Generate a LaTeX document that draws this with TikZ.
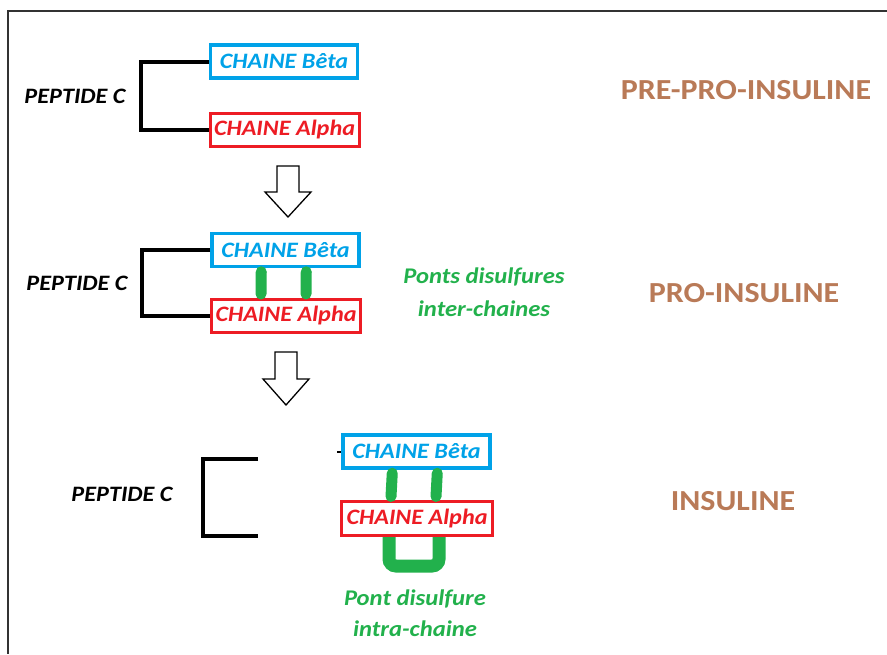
\documentclass[tikz,border=0pt]{standalone}
\usepackage{fontspec}
\setmainfont{Carlito}[FakeStretch=1.1]
\usetikzlibrary{calc}
\definecolor{chainblue}{RGB}{0,162,232}
\definecolor{chainred}{RGB}{237,28,36}
\definecolor{bondgreen}{RGB}{34,177,76}
\definecolor{titlebrown}{RGB}{185,122,87}
\definecolor{framegray}{RGB}{50,50,50}
\tikzset{
  x=0.75pt, y=-0.75pt,
  beta/.style={draw=chainblue, line width=3.5*0.75pt, text=chainblue,
    minimum width=147*0.75pt, minimum height=33*0.75pt, inner sep=0pt,
    font=\fontsize{16.5}{18}\selectfont\bfseries\itshape},
  alpha/.style={draw=chainred, line width=3*0.75pt, text=chainred,
    minimum width=149*0.75pt, minimum height=33*0.75pt, inner sep=0pt,
    font=\fontsize{16.5}{18}\selectfont\bfseries\itshape},
  peptide/.style={font=\fontsize{16.5}{18}\selectfont\bfseries\itshape, text=black},
  title/.style={font=\fontsize{21.8}{24}\selectfont\bfseries, text=titlebrown},
  bondlabel/.style={text=bondgreen, align=center},
  bracket/.style={draw=black, line width=4*0.75pt},
  bond/.style={draw=bondgreen, line width=11*0.75pt, line cap=round},
  loopbond/.style={draw=bondgreen, line width=13*0.75pt, rounded corners=7*0.75pt},
  stepdown/.style={draw=black, fill=white, line width=1.3*0.75pt, line join=miter},
}
\begin{document}
\begin{tikzpicture}
\useasboundingbox (0,0) rectangle (887,654);
% frame
\draw[framegray, line width=2*0.75pt] (887,11) -- (8,11) -- (8,654);

% ---- pre-pro-insuline
\node[beta]  (b1) at (284,61.5)  {CHAINE Bêta};
\node[alpha] (a1) at (284.5,129.5) {CHAINE Alpha};
\node[peptide] (p1) at (75,96) {PEPTIDE C};
\draw[bracket] (b1.west) -- ++(-68,0) |- (a1.west);
\node[title] (t1) at (746,90) {PRE-PRO-INSULINE};

% arrow 1
\draw[stepdown] (277,166) -- (299,166) -- (299,192) -- (311,192) -- (288,217)
  -- (265,192) -- (277,192) -- cycle;

% ---- pro-insuline
\node[beta]  (b2) at (285.5,250) {CHAINE Bêta};
\node[alpha] (a2) at (286,315.5) {CHAINE Alpha};
\node[peptide] (p2) at (77,283) {PEPTIDE C};
\draw[bracket] (b2.west) -- ++(-68,0) |- (a2.west);
\draw[bond] ($(b2.south west)+(51,3.5)$) -- ($(a2.north west)+(51,-3.5)$);
\draw[bond] ($(b2.south west)+(96,3.5)$) -- ($(a2.north west)+(96,-3.5)$);
\node[bondlabel, font=\fontsize{16.8}{24.75}\selectfont\bfseries\itshape] (l2) at (484,292.5)
  {Ponts disulfures\\inter-chaines};
\node[title] (t2) at (744,293) {PRO-INSULINE};

% arrow 2
\draw[stepdown] (275,352) -- (297,352) -- (297,379) -- (309,379) -- (286,405)
  -- (263,379) -- (275,379) -- cycle;

% ---- insuline
\node[beta]  (b3) at (416.5,451.5) {CHAINE Bêta};
\node[alpha, minimum width=151*0.75pt, minimum height=34*0.75pt] (a3) at (417,518.5) {CHAINE Alpha};
\node[peptide] (p3) at (122,494) {PEPTIDE C};
\coordinate (k1) at (258,459);
\coordinate (k2) at (258,536);
\draw[bracket] (k1) -- ++(-55,0) |- (k2);
\draw[black, line width=2*0.75pt] ($(b3.west)+(-4,0)$) -- (b3.west);
\draw[bond] ($(b3.south west)+(51,3.5)$) -- ($(a3.north west)+(51,-3.5)$);
\draw[bond] ($(b3.south west)+(96,3.5)$) -- ($(a3.north west)+(96,-3.5)$);
\draw[loopbond] ($(a3.south west)+(49,0)$) -- ++(0,29) -- ($(a3.south west)+(99,29)$)
  -- ($(a3.south west)+(99,0)$);
\node[bondlabel, font=\fontsize{16.8}{23.25}\selectfont\bfseries\itshape] (l3) at (415,613.5)
  {Pont disulfure\\intra-chaine};
\node[title] (t3) at (733,501) {INSULINE};
\end{tikzpicture}
\end{document}
